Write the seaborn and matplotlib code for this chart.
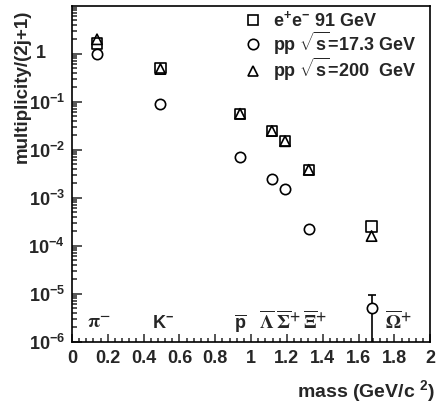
import numpy as np
import pandas as pd
import matplotlib
matplotlib.use('Agg')
import matplotlib.pyplot as plt
import matplotlib.transforms as mtransforms
import seaborn as sns
from matplotlib.ticker import LogLocator, MultipleLocator, FuncFormatter, NullFormatter
from matplotlib.lines import Line2D

# --- dados ---
massas = [0.1396, 0.4937, 0.9383, 1.1157, 1.1894, 1.3217, 1.6725]
ee91 = [1.64, 0.50, 0.056, 0.0245, 0.0151, 0.0038, 2.5e-4]
pp17 = [0.97, 0.091, 0.0071, 0.0024, 0.0015, 2.2e-4, 4.9e-6]
pp200 = [2.0, 0.48, 0.056, 0.0245, 0.0150, 0.0038, 1.58e-4]

# barra de erro do Omega (pp 17.3)
omega_err_baixo = 4.8e-6
omega_err_cima = 4.3e-6

particulas = [r'$\pi^{-}$', r'K$^{-}$', r'$\overline{\mathrm{p}}$', r'$\overline{\Lambda}$',
              r'$\overline{\Sigma}^{+}$', r'$\overline{\Xi}^{+}$', r'$\overline{\Omega}^{+}$']
part_x = [0.15, 0.51, 0.94, 1.09, 1.21, 1.36, 1.82]
part_serif = [True, False, False, True, True, True, True]

series = ['e$^{+}$e$^{-}$ 91 GeV', r'pp $\sqrt{s}$=17.3 GeV', r'pp $\sqrt{s}$=200  GeV']

sns.set_style('ticks')
plt.rcParams['font.family'] = ['Liberation Sans', 'DejaVu Sans']
plt.rcParams['font.weight'] = 'bold'
plt.rcParams['mathtext.fontset'] = 'custom'
plt.rcParams['mathtext.rm'] = 'Liberation Sans:bold'
plt.rcParams['mathtext.it'] = 'Liberation Sans:bold'
plt.rcParams['mathtext.bf'] = 'Liberation Sans:bold'
plt.rcParams['mathtext.sf'] = 'Liberation Sans:bold'
plt.rcParams['mathtext.default'] = 'rm'

df = pd.DataFrame({
    'massa': massas * 3,
    'mult': ee91 + pp200 + pp17,
    'serie': ['ee'] * 7 + ['pp200'] * 7 + ['pp17'] * 7,
})

fig = plt.figure(figsize=(4.39, 4.03), dpi=100)
ax = fig.add_axes([0.164, 0.1526, 0.816, 0.832])

ax.errorbar(massas[-1], pp17[-1], yerr=[[omega_err_baixo], [omega_err_cima]],
            fmt='none', ecolor='black', elinewidth=1.2, capsize=3, capthick=1.2, zorder=2)

marcadores = {'ee': 's', 'pp200': '^', 'pp17': 'o'}
for nome in ['ee', 'pp200', 'pp17']:
    sns.scatterplot(data=df[df['serie'] == nome], x='massa', y='mult', marker=marcadores[nome],
                    s=55, linewidth=1.2, legend=False, ax=ax, zorder=3)
pts = [c for c in ax.collections if c.get_offsets().shape[0] > 1]
for c, nome in zip(pts, ['ee', 'pp200', 'pp17']):
    c.set_facecolor('white' if nome == 'pp17' else 'none')
    c.set_edgecolor('black')

ax.set_yscale('log')
ax.set_xlim(0, 2)
ax.set_ylim(1e-6, 9.8)

ax.xaxis.set_major_locator(MultipleLocator(0.2))
ax.xaxis.set_minor_locator(MultipleLocator(0.04))
ax.xaxis.set_major_formatter(FuncFormatter(lambda v, p: f'{v:g}'))
ax.yaxis.set_major_locator(LogLocator(base=10, numticks=20))
ax.yaxis.set_minor_locator(LogLocator(base=10, subs=np.arange(2, 10), numticks=20))
ax.yaxis.set_minor_formatter(NullFormatter())


def fmt_y(v, p):
    e = int(round(np.log10(v)))
    if e == 0:
        return ''  # o "1" vai a parte, centrado sob os "10"
    return '10$^{%d}$' % e


ax.yaxis.set_major_formatter(FuncFormatter(fmt_y))
trans_y = mtransforms.blended_transform_factory(ax.transAxes, ax.transData)
ax.text(-0.087, 1, '1', transform=trans_y, ha='center', va='center', fontsize=13,
        fontweight='bold')

ax.tick_params(which='both', direction='in', top=False, right=False, labelsize=13, width=1.1)
ax.tick_params(axis='y', which='major', length=7, pad=5)
ax.tick_params(axis='y', which='minor', length=3.6)
ax.tick_params(axis='x', which='major', length=6, pad=6)
ax.tick_params(axis='x', which='minor', length=3)
for s in ax.spines.values():
    s.set_linewidth(1.2)
    s.set_color('black')

ax.set_xlabel('mass (GeV/c $^{2}$)', fontsize=14, fontweight='bold', ha='right')
ax.xaxis.set_label_coords(1.014, -0.11)
ax.set_ylabel('multiplicity/(2j+1)', fontsize=13.5, fontweight='bold', ha='right', va='center',
              rotation_mode='anchor')
ax.yaxis.set_label_coords(-0.14, 0.99)

# rotulos das particulas
for lab, xx, serif in zip(particulas, part_x, part_serif):
    if serif:
        ax.text(xx, 1.9e-6, lab, ha='center', va='baseline', fontsize=14,
                math_fontfamily='stix')
    else:
        ax.text(xx, 1.9e-6, lab, ha='center', va='baseline', fontsize=13, fontweight='bold')

handles = [Line2D([], [], ls='none', marker=m, ms=7.5, mfc='none', mec='black', mew=1.2)
           for m in ['s', 'o', '^']]
ax.legend(handles, series, loc='upper left', bbox_to_anchor=(0.449, 1.021), frameon=False,
          fontsize=13, handlelength=1.0, handletextpad=0.6, labelspacing=-0.03,
          borderaxespad=0.2)

fig.savefig('out.png', dpi=100)
